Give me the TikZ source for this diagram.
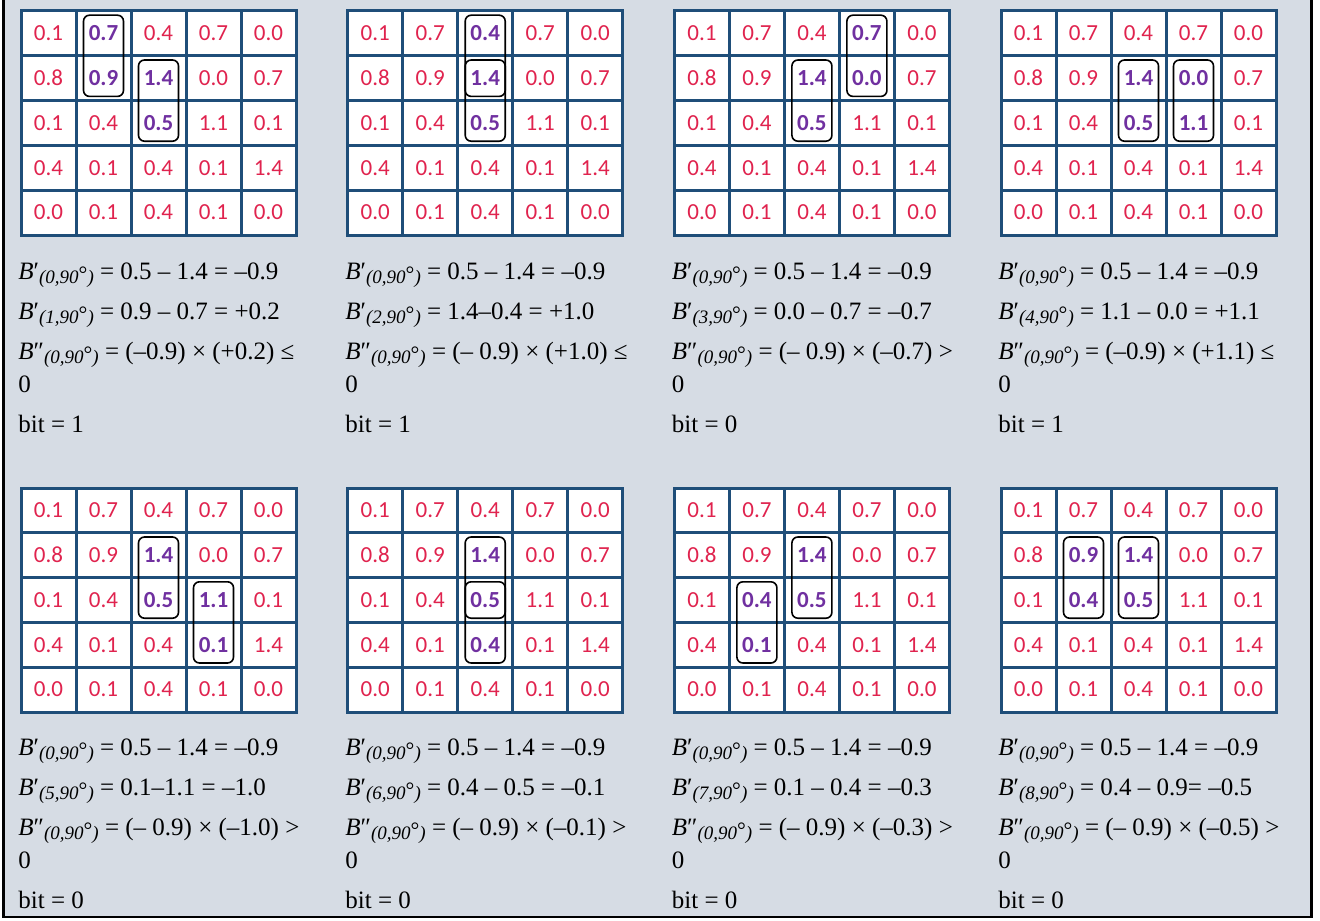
\documentclass[tikz,border=0pt]{standalone}
\usepackage{fontspec}
\setmainfont{Liberation Serif}
\newfontfamily\cellfont{Carlito}
\usetikzlibrary{fit}
\definecolor{gridblue}{HTML}{1F4E79}
\definecolor{numred}{HTML}{E0234E}
\definecolor{numpurple}{HTML}{7030A0}
\definecolor{panelbg}{HTML}{D6DCE4}
\newcommand{\subtxt}[1]{\raisebox{-2pt}{\fontsize{9.5}{10}\selectfont\itshape #1}}
\newcommand{\angsub}[1]{\subtxt{(#1,90}\raisebox{-1.2pt}{\fontsize{11}{12}\selectfont°}\subtxt{)}}
\newcommand{\Bd}[1]{\textit{B}′\angsub{#1}}
\newcommand{\Bdd}[1]{\textit{B}″\angsub{#1}}
\newcommand{\markcells}[2]{\foreach \k in {#2}{\expandafter\xdef\csname hl#1-\k\endcsname{1}}}
% highlighted cells (column-row) of every panel
\markcells{1}{2-1,2-2,3-2,3-3}
\markcells{2}{3-1,3-2,3-3}
\markcells{3}{3-2,3-3,4-1,4-2}
\markcells{4}{3-2,3-3,4-2,4-3}
\markcells{5}{3-2,3-3,4-3,4-4}
\markcells{6}{3-2,3-3,3-4}
\markcells{7}{3-2,3-3,2-3,2-4}
\markcells{8}{3-2,3-3,2-2,2-3}

\begin{document}
\begin{tikzpicture}[x=0.5pt,y=-0.5pt,
cell/.style={draw=gridblue,line width=1.5pt,minimum width=27.5pt,minimum height=22.4pt,inner sep=0pt,outer sep=0pt},
hlbox/.style={draw,line width=0.8pt,rounded corners=3pt,inner xsep=-3.75pt,inner ysep=-2.1pt},
txt/.style={anchor=base west,inner sep=0pt,font=\fontsize{12.5}{14}\selectfont}]
\useasboundingbox (0,0) rectangle (1320,920);
\fill[white] (0,0) rectangle (1320,920);
\fill[panelbg] (3.5,-5) rectangle (1311.5,917);
\draw[line width=1.25pt] (3.5,-5) -- (3.5,917) -- (1311.5,917) -- (1311.5,-5);
% grids
\foreach \p/\px/\py in {1/21/11,2/347.7/11,3/674.4/11,4/1001/11,5/21/488,6/347.7/488,7/674.4/488,8/1001/488}{
\fill[white] (\px,\py) rectangle ++(275,224);
\foreach \r/\vals in {1/{0.1,0.7,0.4,0.7,0.0},2/{0.8,0.9,1.4,0.0,0.7},3/{0.1,0.4,0.5,1.1,0.1},4/{0.4,0.1,0.4,0.1,1.4},5/{0.0,0.1,0.4,0.1,0.0}}
\foreach \v [count=\c] in \vals {
\ifcsname hl\p-\c-\r\endcsname\def\tc{numpurple}\def\tf{\bfseries}\else\def\tc{numred}\def\tf{}\fi
\node[cell,text=\tc,font=\cellfont\fontsize{11.5}{12}\selectfont\tf] (p\p-\c-\r) at ({\px+55*\c-27.5},{\py+44.8*\r-22.4}) {\v};
}}
% rounded boxes: panel/column/top row
\foreach \p/\c/\r [count=\n] in {1/2/1,1/3/2,2/3/1,2/3/2,3/3/2,3/4/1,4/3/2,4/4/2,5/3/2,5/4/3,6/3/2,6/3/3,7/3/2,7/2/3,8/3/2,8/2/2}{
\pgfmathtruncatemacro\rr{\r+1}
\node[hlbox,fit=(p\p-\c-\r)(p\p-\c-\rr)] (box\n) {};
}
% formulas under the grids
\foreach \p/\tx/\ty/\i/\la/\lb/\bit in {1/18/279/1/{0.9 – 0.7 = +0.2}/{(–0.9) × (+0.2) ≤}/1,
2/345/279/2/{1.4–0.4 = +1.0}/{(– 0.9) × (+1.0) ≤}/1,
3/671.5/279/3/{0.0 – 0.7 = –0.7}/{(– 0.9) × (–0.7) >}/0,
4/998/279/4/{1.1 – 0.0 = +1.1}/{(–0.9) × (+1.1) ≤}/1,
5/18/755/5/{0.1–1.1 = –1.0}/{(– 0.9) × (–1.0) >}/0,
6/345/755/6/{0.4 – 0.5 = –0.1}/{(– 0.9) × (–0.1) >}/0,
7/671.5/755/7/{0.1 – 0.4 = –0.3}/{(– 0.9) × (–0.3) >}/0,
8/998/755/8/{0.4 – 0.9= –0.5}/{(– 0.9) × (–0.5) >}/0}{
\node[txt] (t\p-1) at (\tx,\ty) {\Bd{0} = 0.5 – 1.4 = –0.9};
\node[txt] (t\p-2) at (\tx,\ty+40) {\Bd{\i} = \la};
\node[txt] (t\p-3) at (\tx,\ty+80) {\Bdd{0} = \lb};
\node[txt] (t\p-4) at (\tx,\ty+113) {0};
\node[txt] (t\p-5) at (\tx,\ty+153) {bit = \bit};
}
\end{tikzpicture}
\end{document}
